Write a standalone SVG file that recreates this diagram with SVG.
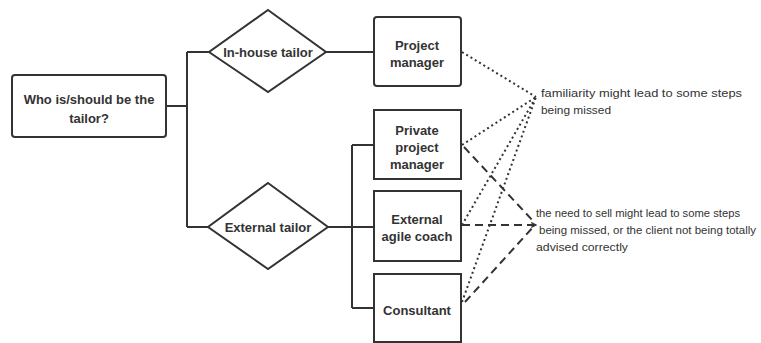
<svg xmlns="http://www.w3.org/2000/svg" width="761" height="343" viewBox="0 0 761 343">
<defs>
<style>
.box{fill:#fff;stroke:#333;stroke-width:2}
.lbl{font-family:"Liberation Sans",Arial,sans-serif;font-weight:bold;font-size:13px;fill:#333;text-anchor:middle}
.note{font-family:"Liberation Sans",Arial,sans-serif;font-size:11.5px;fill:#333}
.wire{fill:none;stroke:#333;stroke-width:2}
.dot{fill:none;stroke:#333;stroke-width:2;stroke-dasharray:2 3}
.dash{fill:none;stroke:#333;stroke-width:2;stroke-dasharray:8 5}
</style>
<marker id="ah" viewBox="0 0 10 10" refX="9" refY="5" markerWidth="6" markerHeight="6" orient="auto" markerUnits="userSpaceOnUse">
<path d="M1,1 L9,5 L1,9" fill="none" stroke="#333" stroke-width="2"/>
</marker>
</defs>
<rect width="761" height="343" fill="#fff"/>
<g id="connectors">
<path class="wire" d="M166,106 H187 M187,52 V227 M187,52 H209 M187,227 H208"/>
<path class="wire" d="M326,52 H374"/>
<path class="wire" d="M328,227 H374 M352,145 V308 M352,145 H374 M352,308 H374"/>
<path class="dot" d="M462,52 L536,97"/>
<path class="dot" d="M462,145 L536,97"/>
<path class="dot" d="M462,225 L536,97"/>
<path class="dot" d="M462,302 L536,97"/>
<path class="dash" d="M464,147 L535,223"/>
<path class="dash" d="M462,225 H536" marker-end="url(#ah)"/>
<path class="dash" d="M465,302 L535,225"/>
</g>
<g id="who">
<rect class="box" x="12" y="75" width="154" height="62" rx="3"/>
<text class="lbl" x="89" y="104">Who is/should be the</text>
<text class="lbl" x="89" y="123">tailor?</text>
</g>
<g id="inhouse">
<polygon class="box" points="268,10 326,52 268,92 209,52"/>
<text class="lbl" x="268" y="57">In-house tailor</text>
</g>
<g id="external">
<polygon class="box" points="268,183 328,227 268,269 208,227"/>
<text class="lbl" x="268" y="232">External tailor</text>
</g>
<g id="pm">
<rect class="box" x="374" y="17" width="87" height="69" rx="3"/>
<text class="lbl" x="417" y="50">Project</text>
<text class="lbl" x="417" y="67">manager</text>
</g>
<g id="ppm">
<rect class="box" x="374" y="110" width="87" height="69"/>
<text class="lbl" x="417" y="135">Private</text>
<text class="lbl" x="417" y="152">project</text>
<text class="lbl" x="417" y="169">manager</text>
</g>
<g id="eac">
<rect class="box" x="374" y="191" width="87" height="70"/>
<text class="lbl" x="417" y="224">External</text>
<text class="lbl" x="417" y="241">agile coach</text>
</g>
<g id="consultant">
<rect class="box" x="374" y="274" width="87" height="68"/>
<text class="lbl" x="417" y="315">Consultant</text>
</g>
<g id="note1">
<text class="note" x="541" y="97" textLength="201" lengthAdjust="spacingAndGlyphs">familiarity might lead to some steps</text>
<text class="note" x="541" y="114" textLength="70" lengthAdjust="spacingAndGlyphs">being missed</text>
</g>
<g id="note2">
<text class="note" x="536" y="217" textLength="204" lengthAdjust="spacingAndGlyphs">the need to sell might lead to some steps</text>
<text class="note" x="539" y="234" textLength="217" lengthAdjust="spacingAndGlyphs">being missed, or the client not being totally</text>
<text class="note" x="536" y="251" textLength="92" lengthAdjust="spacingAndGlyphs">advised correctly</text>
</g>
</svg>
